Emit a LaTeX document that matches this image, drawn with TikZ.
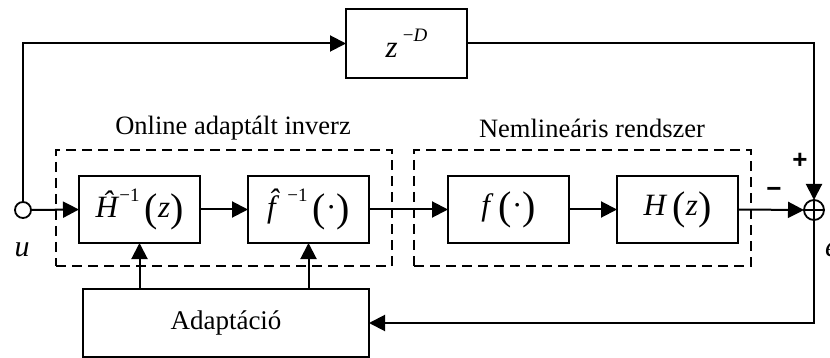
\documentclass[tikz,border=0pt]{standalone}
\usepackage{fontspec}
\setmainfont{Liberation Serif}
\newfontfamily\sansb{Liberation Sans}
\usepackage{graphicx}
\usetikzlibrary{arrows.meta}
\tikzset{
 blk/.style={draw, line width=2.2pt, minimum width=121pt, minimum height=67pt, inner sep=0pt, outer sep=0pt, font=\fontsize{31}{34}\selectfont},
 grp/.style={draw, dash pattern=on 10pt off 6pt, line width=1.9pt, inner sep=0pt, outer sep=0pt},
 conn/.style={line width=2pt, -{Triangle[length=16pt,width=16pt]}},
 wire/.style={line width=2pt},
 lbl/.style={font=\fontsize{26.5}{30}\selectfont, inner sep=0pt},
 sgn/.style={font=\sansb\bfseries\fontsize{26}{26}\selectfont, inner sep=0pt},
}
\newcommand{\sx}[1]{\raisebox{0.5em}{\fontsize{19}{19}\selectfont #1}}
\newcommand{\lp}{\raisebox{-4pt}{\fontsize{40}{40}\selectfont(}}
\newcommand{\rp}{\raisebox{-4pt}{\fontsize{40}{40}\selectfont)}}
\begin{document}
\begin{tikzpicture}[x=1pt,y=-1pt]
\useasboundingbox (0,0) rectangle (830,358);
% dashed groups
\node[grp, minimum width=336pt, minimum height=116pt] (g1) at (224,208) {};
\node[grp, minimum width=337pt, minimum height=116pt] (g2) at (582.5,208) {};
\node[lbl] (t1) at (233,128) {Online adaptált inverz};
\node[lbl] (t2) at (592,128) {Nemlineáris rendszer};
% blocks
\node[blk, minimum height=69pt] (zd) at (406.5,43.5) {\textit{z}\,\sx{−\textit{D}}};
\node[blk] (hinv) at (139.5,209.5) {\textit{Ĥ}\sx{−1}\,\lp\textit{z}\rp};
\node[blk] (finv) at (308.5,209.5) {\textit{f̂}\sx{−1}\,\lp·\rp};
\node[blk] (f) at (508.5,209.5) {\textit{f}\,\lp·\rp};
\node[blk] (h) at (677.5,209.5) {\textit{H}\,\lp\textit{z}\rp};
\node[blk, minimum width=286pt, minimum height=68pt, font=\fontsize{27}{30}\selectfont] (ad) at (226,323) {Adaptáció};
% circles
\node[draw, circle, line width=1.8pt, minimum size=16pt, inner sep=0pt, outer sep=0pt, fill=white] (in) at (23,210) {};
\node[draw, circle, line width=1.8pt, minimum size=20pt, inner sep=0pt, outer sep=0pt] (sum) at (814,210) {};
\draw[wire] (sum.north) -- (sum.south) (sum.west) -- (sum.east);
% labels
\node[lbl, font=\itshape\fontsize{30}{30}\selectfont] (u) at (22,250) {u};
\node[lbl, font=\itshape\fontsize{30}{30}\selectfont, anchor=west] (e) at (825,250) {e};
\node[sgn] (plus) at (800,161) {+};
\node[sgn] (minus) at (774,192) {−};
% connectors
\draw[conn] (in.north) |- (zd.west);
\draw[conn] (zd.east) -| (sum.north);
\draw[conn] (in.east) -- (hinv.west);
\draw[conn] (hinv.east) -- (finv.west);
\draw[conn] (finv.east) -- (f.west);
\draw[conn] (f.east) -- (h.west);
\draw[conn] (h.east) -- (sum.west);
\draw[conn] (sum.south) |- (ad.east);
\draw[conn] (ad.north -| hinv.south) -- (hinv.south);
\draw[conn] (ad.north -| finv.south) -- (finv.south);
\end{tikzpicture}
\end{document}
